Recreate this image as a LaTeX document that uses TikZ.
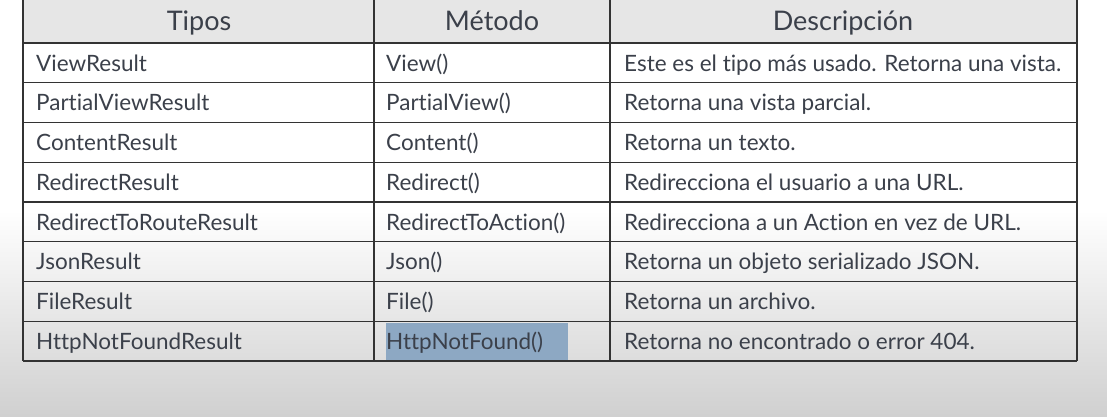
\documentclass[tikz,border=0pt]{standalone}
\usepackage{fontspec}
\setmainfont{Lato}[Ligatures={NoCommon}]
\usetikzlibrary{positioning}
\definecolor{texto}{HTML}{3B404A}
\definecolor{cabecera}{HTML}{E6E6E6}
\definecolor{marcado}{HTML}{8DA8C3}
\definecolor{fondo}{HTML}{D0D0D0}

\begin{document}
\begin{tikzpicture}[x=1pt,y=-1pt,
    celda/.style={anchor=base west, inner sep=0pt, text=texto, font=\fontsize{22.5}{26}\selectfont},
    titulo/.style={anchor=base, inner sep=0pt, text=texto, font=\fontsize{27}{30}\selectfont},
    linea/.style={line width=1.3pt, draw=black!80}]
                  % Fondo
                  \useasboundingbox (0,0) rectangle (1107,416);
                  \fill[white] (0,0) rectangle (1107,416);
                  \shade[top color=white, bottom color=fondo] (0,210) rectangle (1107,416);
                  \fill[cabecera] (23,0) rectangle (1077,43);
                  \fill[marcado] (386,323) rectangle (568,360);

                  % Cabecera
                  \node[titulo] (tipos) at (199,30) {Tipos};
                  \node[titulo] (metodo) at (492,30) {Método};
                  \node[titulo] (descripcion) at (843,30) {Descripción};

                  % Filas
                  \foreach \t/\m/\d [count=\i] in {
                      ViewResult/View()/Este es el tipo más usado. Retorna una vista.,
                      PartialViewResult/PartialView()/Retorna una vista parcial.,
                      ContentResult/Content()/Retorna un texto.,
                      RedirectResult/Redirect()/Redirecciona el usuario a una URL.,
                      RedirectToRouteResult/RedirectToAction()/Redirecciona a un Action en vez de URL.,
                      JsonResult/Json()/Retorna un objeto serializado JSON.,
                      FileResult/File()/Retorna un archivo.,
                      HttpNotFoundResult/HttpNotFound()/Retorna no encontrado o error 404.}
                  {
                      \pgfmathsetmacro{\base}{71+39.75*(\i-1)}
                      \node[celda] (tipo\i) at (36,\base) {\t};
                      \node[celda] (metodo\i) at (386,\base) {\m};
                      \node[celda] (desc\i) at (624,\base) {\d};
                  }

                  % Lineas
                  \foreach \k in {0,...,8}
                  \draw[linea] (23,43+39.75*\k) -- (1077,43+39.75*\k);
                  \foreach \x in {23,374,610,1077}
                  \draw[linea] (\x,0) -- (\x,361);
              \end{tikzpicture}
\end{document}
